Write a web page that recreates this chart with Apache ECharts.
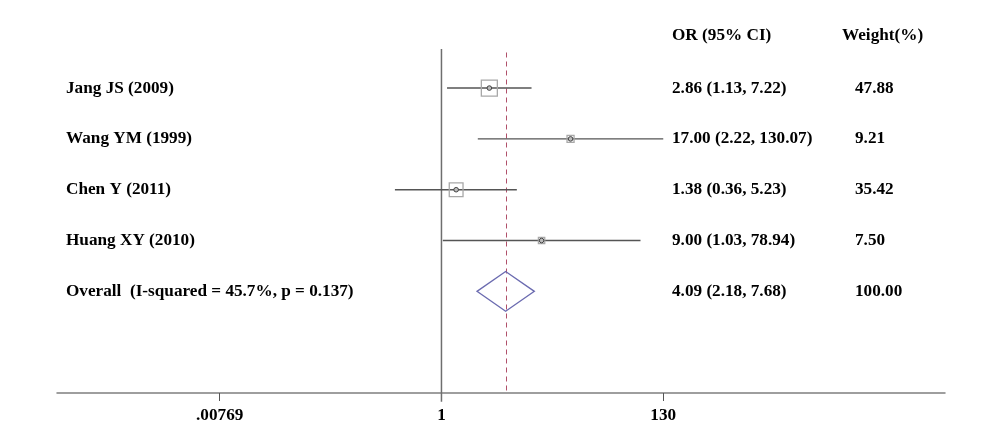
<!DOCTYPE html>
<html>
<head>
<meta charset="utf-8">
<script src="https://cdn.jsdelivr.net/npm/echarts@6/dist/echarts.min.js"></script>
<style>html,body{margin:0;padding:0;background:#fff}#c{width:1000px;height:443px}</style>
</head>
<body>
<div id="c"></div>
<script>
// ---- data ----
const studies = ['Jang JS (2009)', 'Wang YM (1999)', 'Chen Y (2011)', 'Huang XY (2010)'];
const orValues = [2.86, 17.00, 1.38, 9.00];
const ciLow = [1.13, 2.22, 0.36, 1.03];
const ciHigh = [7.22, 130.07, 5.23, 78.94];
const weights = [47.88, 9.21, 35.42, 7.50];
const orText = ['2.86 (1.13, 7.22)', '17.00 (2.22, 130.07)', '1.38 (0.36, 5.23)', '9.00 (1.03, 78.94)'];
const weightText = ['47.88', '9.21', '35.42', '7.50'];
const overallLabel = 'Overall  (I-squared = 45.7%, p = 0.137)';
const overallOR = 4.09, overallLow = 2.18, overallHigh = 7.68;
const overallText = '4.09 (2.18, 7.68)';
const overallWeight = '100.00';
const tickValues = [0.00769, 1, 130];
const tickLabels = ['.00769', '1', '130'];
const headerOR = 'OR (95% CI)';
const headerWeight = 'Weight(%)';

const L = Math.log10;
const FONT = '"Liberation Serif", "Times New Roman", serif';
const FS = 17.2;

const studyData = studies.map((s, i) => [L(orValues[i]), i + 1, L(ciLow[i]), L(ciHigh[i]), weights[i], i]);

function txt(x, y, s) {
  return { type: 'text', x: x, y: y, style: { text: s, fill: '#000', font: 'bold ' + FS + 'px ' + FONT, textVerticalAlign: 'middle', textAlign: 'left' } };
}

const option = {
  animation: false,
  backgroundColor: '#fff',
  grid: { left: 57, right: 55, top: 37.25, bottom: 50 },
  xAxis: {
    type: 'value', min: -3.665, max: 4.80, position: 'bottom',
    axisLine: { show: true, onZero: false, lineStyle: { color: '#7f7f7f', width: 1.5 } },
    axisTick: { show: true, length: 8, customValues: tickValues.map(L), lineStyle: { color: '#555', width: 1 } },
    axisLabel: { customValues: tickValues.map(L), margin: 14, fontFamily: FONT, fontWeight: 'bold', fontSize: FS, color: '#000',
      formatter: v => { const i = tickValues.findIndex(t => Math.abs(L(t) - v) < 1e-6); return i >= 0 ? tickLabels[i] : ''; } },
    splitLine: { show: false }
  },
  yAxis: { type: 'value', min: 0, max: 7, inverse: true, show: false },
  series: [
    {
      // reference lines
      type: 'custom',
      data: [[0, L(overallOR)]],
      renderItem: (params, api) => {
        const a = api.coord([0, 0.23]), b = api.coord([0, 7.17]);
        const c = api.coord([L(overallOR), 0.3]), d = api.coord([L(overallOR), 7]);
        const xd = Math.round(c[0]) + 0.5;
        return { type: 'group', children: [
          { type: 'line', shape: { x1: a[0], y1: a[1], x2: b[0], y2: b[1] }, style: { stroke: '#6e6e6e', lineWidth: 1.5 } },
          { type: 'line', shape: { x1: xd, y1: c[1], x2: xd, y2: d[1] }, style: { stroke: '#b0506a', lineWidth: 1, lineDash: [5, 4] } }
        ]};
      },
      z: 1
    },
    {
      type: 'custom',
      data: studyData,
      renderItem: (params, api) => {
        const est = api.value(0), row = api.value(1), lo = api.value(2), hi = api.value(3), w = api.value(4);
        const p = api.coord([est, row]), pl = api.coord([lo, row]), ph = api.coord([hi, row]);
        const s = 16 * Math.sqrt(w / weights[0]);
        return { type: 'group', children: [
          { type: 'line', shape: { x1: pl[0], y1: pl[1], x2: ph[0], y2: ph[1] }, style: { stroke: '#555', lineWidth: 1.4 } },
          { type: 'rect', shape: { x: p[0] - s / 2, y: p[1] - s / 2, width: s, height: s }, style: { fill: 'rgba(0,0,0,0)', stroke: '#a8a8a8', lineWidth: 1.3 } },
          { type: 'circle', shape: { cx: p[0], cy: p[1], r: 2.3 }, style: { fill: '#bbb', stroke: '#444', lineWidth: 1 } }
        ]};
      },
      z: 2
    },
    {
      // overall diamond
      type: 'custom',
      data: [[L(overallOR), 5, L(overallLow), L(overallHigh)]],
      renderItem: (params, api) => {
        const est = api.value(0), row = api.value(1), lo = api.value(2), hi = api.value(3);
        const l = api.coord([lo, row]), r = api.coord([hi, row]), t = api.coord([est, row - 0.39]), b = api.coord([est, row + 0.39]);
        return { type: 'polygon', shape: { points: [l, t, r, b] }, style: { fill: 'rgba(0,0,0,0)', stroke: '#6b6bb0', lineWidth: 1.3 } };
      },
      z: 3
    },
    {
      // text columns
      type: 'custom',
      data: [[0]],
      renderItem: (params, api) => {
        const ch = [];
        const y0 = api.coord([0, -0.04])[1];
        ch.push(txt(672, y0, headerOR));
        ch.push(txt(842, y0, headerWeight));
        studies.forEach((s, i) => {
          const y = api.coord([0, i + 1])[1];
          ch.push(txt(66, y, s));
          ch.push(txt(672, y, orText[i]));
          ch.push(txt(855, y, weightText[i]));
        });
        const yo = api.coord([0, 5])[1];
        ch.push(txt(66, yo, overallLabel));
        ch.push(txt(672, yo, overallText));
        ch.push(txt(855, yo, overallWeight));
        return { type: 'group', children: ch };
      },
      z: 4
    }
  ]
};
echarts.init(document.getElementById('c'), null, { renderer: 'canvas' }).setOption(option);
</script>
</body>
</html>
